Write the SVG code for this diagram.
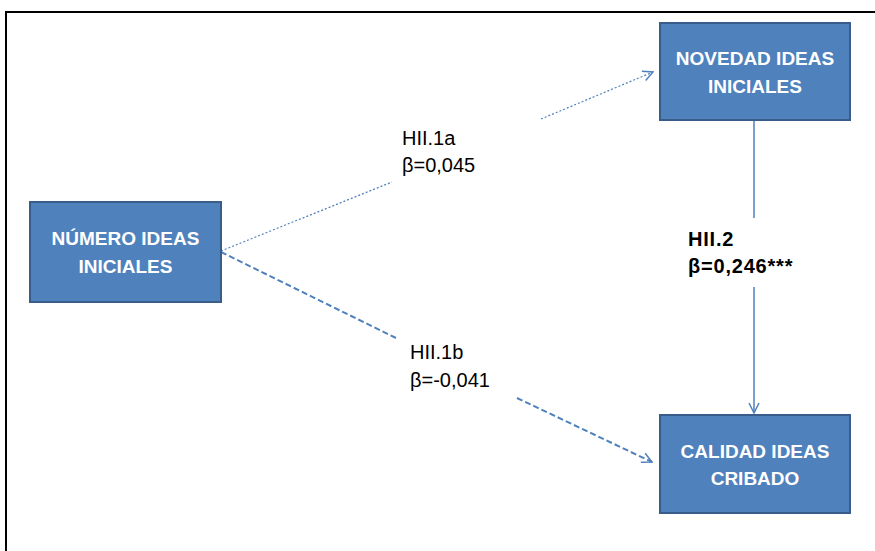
<svg xmlns="http://www.w3.org/2000/svg" width="875" height="551" viewBox="0 0 875 551">
  <style>
    .box { fill: #4F81BD; stroke: #385D8A; stroke-width: 2; }
    .boxtxt { font-family: "Liberation Sans", Arial, sans-serif; font-weight: bold; font-size: 19px; fill: #FFFFFF; text-anchor: middle; }
    .lbl { font-family: "Liberation Sans", Arial, sans-serif; font-size: 20px; fill: #000000; }
    .lblb { font-family: "Liberation Sans", Arial, sans-serif; font-size: 20px; font-weight: bold; letter-spacing: 0.8px; fill: #000000; }
    .edge { fill: none; stroke: #4F81BD; }
  </style>
  <defs>
    <marker id="openArrow" viewBox="0 0 12 12" refX="11" refY="6" markerWidth="12" markerHeight="12" markerUnits="userSpaceOnUse" orient="auto">
      <path d="M1,1 L11,6 L1,11" fill="none" stroke="#4F81BD" stroke-width="1.5"/>
    </marker>
  </defs>

  <rect width="875" height="551" fill="#FFFFFF"/>
  <!-- outer frame -->
  <path d="M6,551 V12 H875" fill="none" stroke="#000000" stroke-width="2"/>

  <g id="connectors">
    <!-- HII.1a : dotted -->
    <path class="edge" d="M221,251 L392,182" stroke-width="1.2" stroke-dasharray="2,2"/>
    <path class="edge" d="M541,119 L653,72" stroke-width="1.2" stroke-dasharray="2,2" marker-end="url(#openArrow)"/>
    <!-- HII.1b : dashed -->
    <path class="edge" d="M221,252 L398,339" stroke-width="2" stroke-dasharray="6,3"/>
    <path class="edge" d="M517,398 L652,462" stroke-width="2" stroke-dasharray="6,3" marker-end="url(#openArrow)"/>
    <!-- HII.2 : solid -->
    <path class="edge" d="M754,121 V218" stroke-width="1.5"/>
    <path class="edge" d="M754,287 V413" stroke-width="1.5" marker-end="url(#openArrow)"/>
  </g>

  <g id="labels">
    <text class="lbl" x="402" y="145">HII.1a</text>
    <text class="lbl" x="402" y="172">β=0,045</text>
    <text class="lbl" x="410" y="359">HII.1b</text>
    <text class="lbl" x="410" y="387">β=-0,041</text>
    <text class="lblb" x="688" y="246">HII.2</text>
    <text class="lblb" x="688" y="273">β=0,246***</text>
  </g>

  <g id="numero">
    <rect class="box" x="30" y="202" width="191" height="100"/>
    <text class="boxtxt" x="125.5" y="245">NÚMERO IDEAS</text>
    <text class="boxtxt" x="125.5" y="273">INICIALES</text>
  </g>

  <g id="novedad">
    <rect class="box" x="660" y="23" width="190" height="97"/>
    <text class="boxtxt" x="755" y="65">NOVEDAD IDEAS</text>
    <text class="boxtxt" x="755" y="93">INICIALES</text>
  </g>

  <g id="calidad">
    <rect class="box" x="660" y="415" width="190" height="98"/>
    <text class="boxtxt" x="755" y="458">CALIDAD IDEAS</text>
    <text class="boxtxt" x="755" y="485">CRIBADO</text>
  </g>
</svg>
